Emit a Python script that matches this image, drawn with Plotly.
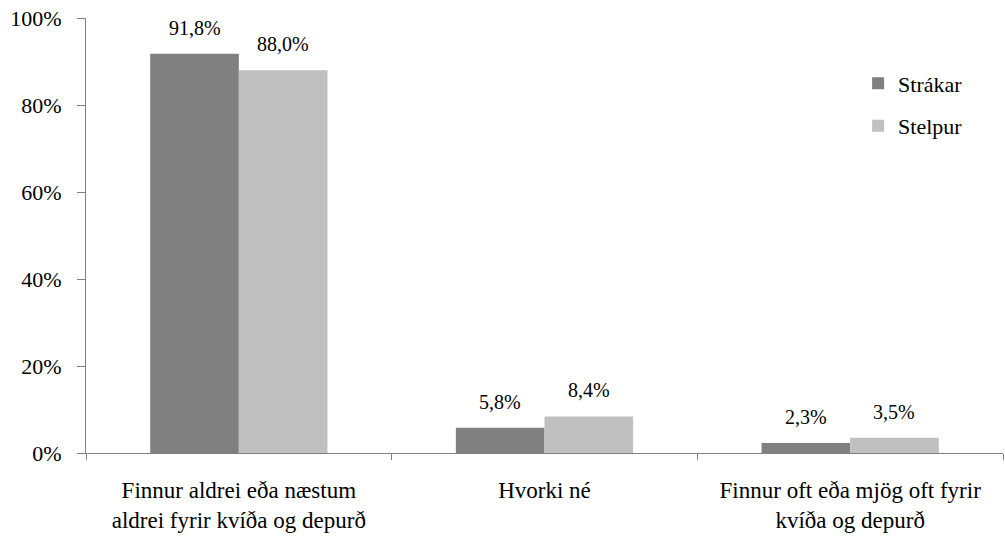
import plotly.graph_objects as go

categories = ["Finnur aldrei eða næstum<br>aldrei fyrir kvíða og depurð",
              "Hvorki né",
              "Finnur oft eða mjög oft fyrir<br>kvíða og depurð"]
series_names = ["Strákar", "Stelpur"]
strakar = [0.918, 0.058, 0.023]
stelpur = [0.880, 0.084, 0.035]
y_ticks = [0, 0.2, 0.4, 0.6, 0.8, 1.0]
y_tick_labels = ["0%", "20%", "40%", "60%", "80%", "100%"]
colors = ["#808080", "#C0C0C0"]

font = "Liberation Serif"

def fmt(v):
    return f"{v*100:.1f}".replace(".", ",") + "%"

fig = go.Figure()
series = [strakar, stelpur]
for i, (name, vals) in enumerate(zip(series_names, series)):
    fig.add_trace(go.Bar(
        x=categories, y=vals, name=name,
        marker=dict(color=colors[i], line=dict(width=0)),
        cliponaxis=False, legendgroup=name,
    ))

W, H = 1005, 538
ml, mr, mt, mb = 86, 2, 18, 85
plot_w = W - ml - mr
bargap = 0.42
half_bar = plot_w / len(categories) * (1 - bargap) / 4
for i, vals in enumerate(series):
    for c, v in zip(categories, vals):
        fig.add_annotation(
            x=c, y=v, xref="x", yref="y", text=fmt(v), showarrow=False,
            xshift=(-half_bar if i == 0 else half_bar), yshift=13,
            yanchor="bottom", font=dict(family=font, size=20, color="#000"),
        )

fig.update_layout(
    width=W, height=H,
    margin=dict(l=ml, r=mr, t=mt, b=mb, autoexpand=False),
    paper_bgcolor="white", plot_bgcolor="white",
    barmode="group", bargap=bargap, bargroupgap=0,
    font=dict(family=font, size=20, color="#000"),
    showlegend=True,
    legend=dict(x=0.842, y=0.898, xanchor="left", yanchor="top",
                font=dict(family=font, size=22), traceorder="grouped",
                tracegroupgap=11, itemwidth=30, bgcolor="rgba(0,0,0,0)"),
)
fig.update_xaxes(
    showline=True, linecolor="#808080", linewidth=1,
    ticks="outside", ticklen=6, tickcolor="#808080", tickson="boundaries",
    tickfont=dict(family=font, size=23), showgrid=False, automargin=False,
    ticklabelstandoff=16,
)
fig.update_yaxes(
    range=[0, 1], tickvals=y_ticks, ticktext=y_tick_labels,
    showline=True, linecolor="#808080", linewidth=1,
    ticks="outside", ticklen=8, tickcolor="#808080",
    tickfont=dict(family=font, size=22), showgrid=False, zeroline=False,
    automargin=False, ticklabelstandoff=11, ticklabeloverflow="allow",
)

fig.write_html(
    "out.html",
    config={"displayModeBar": False},
    post_script="document.body.style.margin='0';document.body.style.overflow='hidden';",
)
